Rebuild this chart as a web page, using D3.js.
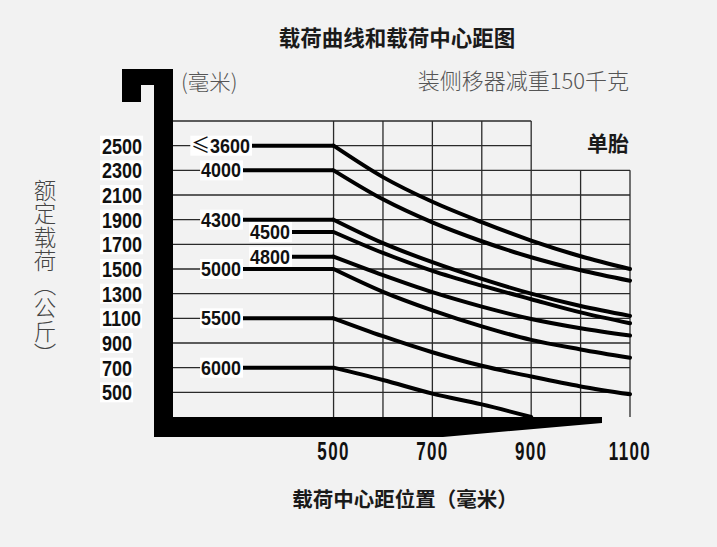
<!DOCTYPE html>
<html>
<head>
<meta charset="utf-8">
<script src="https://cdn.jsdelivr.net/npm/d3@7"></script>
<style>
  html, body { margin: 0; padding: 0; background: #f2f2f2; }
  svg { display: block; }
  .num { font-family: "Liberation Sans", Arial, sans-serif; font-weight: bold; fill: #111; }
  .cjk { font-family: "Noto Sans CJK SC", "Noto Sans", sans-serif; }
</style>
</head>
<body>
<svg id="chart" width="717" height="547"></svg>
<script>
// Load-centre distances (mm) at which each capacity curve is given
const loadCenters = [500, 600, 700, 800, 900, 1000, 1100];

// Lift-height labels for each curve (mm)
const liftHeights = ["≤3600", "4000", "4300", "4500", "4800", "5000", "5500", "6000"];

// Rated capacity (kg) per lift height, one value per load centre
const cap3600 = [2500, 2245, 2045, 1880, 1730, 1603, 1500];
const cap4000 = [2300, 2065, 1878, 1725, 1595, 1490, 1405];
const cap4300 = [1900, 1710, 1555, 1420, 1300, 1200, 1120];
const cap4500 = [1800, 1630, 1485, 1365, 1255, 1148, 1060];
const cap4800 = [1600, 1450, 1312, 1195, 1095, 1020, 960];
const cap5000 = [1500, 1315, 1165, 1035, 925, 848, 780];
const cap5500 = [1100, 955, 825, 715, 628, 548, 484];
const cap6000 = [700, 600, 490, 402, 300];

const capacities = [cap3600, cap4000, cap4300, cap4500, cap4800, cap5000, cap5500, cap6000];

// Axis ticks
const yTicks = [2500, 2300, 2100, 1900, 1700, 1500, 1300, 1100, 900, 700, 500];
const xTicks = [500, 700, 900, 1100];
const yGridValues = [2700, 2500, 2300, 2100, 1900, 1700, 1500, 1300, 1100, 900, 700, 500];
const xGridValues = [500, 600, 700, 800, 900, 1000, 1100];

const svg = d3.select("#chart");

const x = d3.scaleLinear().domain([175, 1100]).range([173, 630]);
const y = d3.scaleLinear().domain([300, 2700]).range([417, 121]);

// condensed bold numerals: draw at the origin, then squeeze horizontally
function numText(parent, px, py, str, size, sx, sy, anchor) {
  const t = parent.append("text").attr("class", "num")
    .attr("transform", `translate(${px},${py}) scale(${sx},${sy})`)
    .attr("text-anchor", anchor)
    .attr("dy", "0.36em")
    .attr("font-size", size);
  const s = String(str);
  if (s.startsWith("≤")) {
    t.append("tspan").attr("class", "cjk").attr("font-size", size * 1.05)
      .attr("font-weight", "normal").text("≤");
    t.append("tspan").text(s.slice(1));
  } else {
    t.text(s);
  }
  return t;
}

// ---- titles ----
svg.append("text").attr("class", "cjk")
  .attr("x", 397).attr("y", 38).attr("dy", "0.35em")
  .attr("text-anchor", "middle")
  .attr("font-size", 21.5).attr("font-weight", "bold").attr("fill", "#1a1a1a")
  .text("载荷曲线和载荷中心距图");

svg.append("text").attr("class", "cjk")
  .attr("x", 181).attr("y", 82).attr("dy", "0.35em")
  .attr("font-size", 21.5).attr("font-weight", 300).attr("fill", "#555")
  .text("(毫米)");

svg.append("text").attr("class", "cjk")
  .attr("x", 629).attr("y", 81).attr("dy", "0.35em")
  .attr("text-anchor", "end")
  .attr("font-size", 22).attr("font-weight", 300).attr("fill", "#555")
  .text("装侧移器减重150千克");

svg.append("text").attr("class", "cjk")
  .attr("x", 629).attr("y", 144).attr("dy", "0.35em")
  .attr("text-anchor", "end")
  .attr("font-size", 21).attr("font-weight", "bold").attr("fill", "#1a1a1a")
  .text("单胎");

// vertical y-axis title set top-to-bottom
svg.append("text").attr("class", "cjk")
  .attr("x", 45).attr("y", 179)
  .attr("font-size", 22.5).attr("font-weight", 300).attr("fill", "#444")
  .style("writing-mode", "vertical-rl")
  .style("letter-spacing", "1px")
  .text("额定载荷（公斤）");

svg.append("text").attr("class", "cjk")
  .attr("x", 405).attr("y", 500).attr("dy", "0.35em")
  .attr("text-anchor", "middle")
  .attr("font-size", 20.5).attr("font-weight", "bold").attr("fill", "#1a1a1a")
  .text("载荷中心距位置（毫米）");

// ---- grid ----
const grid = svg.append("g").attr("stroke", "#2a2a2a").attr("stroke-width", 1.3);
const xRightStart = 900; // the two top rows stop at this load centre
yGridValues.forEach(v => {
  const xEnd = v > 2300 ? x(xRightStart) : x(1100);
  grid.append("line")
    .attr("x1", x(175)).attr("x2", xEnd)
    .attr("y1", y(v)).attr("y2", y(v));
});
xGridValues.forEach(v => {
  const yTop = v > xRightStart ? y(2300) : y(2700);
  grid.append("line")
    .attr("x1", x(v)).attr("x2", x(v))
    .attr("y1", yTop).attr("y2", y(300));
});

// ---- mast and fork silhouette ----
const gx = x(175), gy = y(300);
const fork = [
  [gx - 51, 69], [gx, 69], [gx, gy], [602, gy], [602, gy + 6],
  [443, gy + 20], [gx - 19, gy + 20], [gx - 19, 85], [gx - 32, 85],
  [gx - 32, 102], [gx - 51, 102]
];
svg.append("path")
  .attr("d", d3.line()(fork) + "Z")
  .attr("fill", "#000");

// ---- y tick labels with white plates ----
const yLab = svg.append("g");
yTicks.forEach(v => {
  const g = yLab.append("g");
  const t = numText(g, 102, y(v), v, 22, 0.82, 1, "start");
  const w = t.node().getBBox().width * 0.82;
  g.insert("rect", "text")
    .attr("x", 100).attr("y", y(v) - 10)
    .attr("width", w + 3).attr("height", 20)
    .attr("fill", "#fff");
});

// ---- x tick labels ----
xTicks.forEach(v => {
  numText(svg, x(v), 451, v, 25, 0.68, 1, "middle")
    .style("letter-spacing", "2px");
});

// ---- capacity curves ----
// flat part starts where its label ends
const labelEnd = { "≤3600": 252, "4500": 292, "4800": 292 };
const curveLine = d3.line()
  .x(d => x(d[0])).y(d => y(d[1]))
  .curve(d3.curveMonotoneX);

liftHeights.forEach((lab, i) => {
  const vals = capacities[i];
  const pts = vals.map((v, j) => [loadCenters[j], v]);
  const startX = labelEnd[lab] !== undefined ? labelEnd[lab] : 243;
  const g = svg.append("g");

  g.append("line")
    .attr("x1", startX).attr("x2", x(loadCenters[0]))
    .attr("y1", y(vals[0])).attr("y2", y(vals[0]))
    .attr("stroke", "#000").attr("stroke-width", 4);

  g.append("path")
    .attr("d", curveLine(pts))
    .attr("fill", "none")
    .attr("stroke", "#000").attr("stroke-width", 4)
    .attr("stroke-linecap", "round");

  const sx = 0.92;
  const t = numText(g, startX - 2, y(vals[0]), lab, 19.5, sx, 1, "end");
  const w = t.node().getBBox().width * sx;
  g.insert("rect", "text")
    .attr("x", startX - 3 - w).attr("y", y(vals[0]) - 10)
    .attr("width", w + 3).attr("height", 20)
    .attr("fill", "#fff");
});
</script>
</body>
</html>
